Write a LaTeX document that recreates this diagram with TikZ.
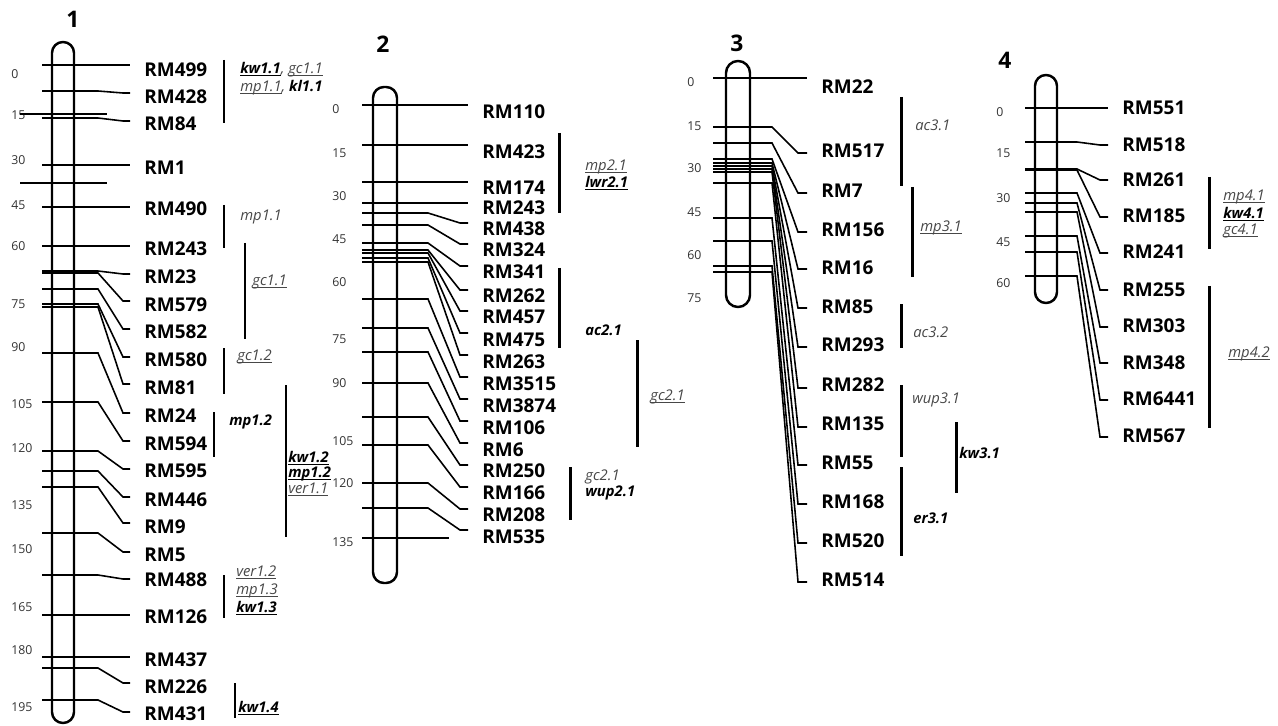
\documentclass[tikz,border=0pt]{standalone}
\usepackage{fontspec}
\setmainfont{Open Sans}
\usetikzlibrary{positioning}

\newcommand{\qul}[1]{\setbox0\hbox{#1}\rlap{\rule[-1.3pt]{\wd0}{0.5pt}}\box0}

\begin{document}
\begin{tikzpicture}[x=0.02cm, y=-0.02cm,
  chrom/.style={line width=1.4pt, rounded corners=6.2pt},
  lnk/.style={line width=0.9pt},
  bar/.style={line width=1.7pt},
  mk/.style={anchor=west, inner xsep=8pt, inner ysep=0pt,
    font=\fontsize{10.8}{12}\selectfont\bfseries},
  scl/.style={anchor=west, inner sep=0pt, font=\fontsize{7}{8}\selectfont,
    text=black!80},
  qtl/.style={anchor=west, inner sep=0pt,
    font=\fontsize{8.4}{10}\selectfont\itshape, text=black!72},
  qtlb/.style={qtl, font=\fontsize{8.4}{10}\selectfont\bfseries\itshape,
    text=black},
  num/.style={font=\fontsize{13}{15}\selectfont\bfseries}
]
\useasboundingbox (0,0) rectangle (1278,726);

\node[num] (n1) at (73,19) {1};
\node[num] (n2) at (383,44) {2};
\node[num] (n3) at (737,43) {3};
\node[num] (n4) at (1005,60) {4};

\draw[chrom] (52,42) rectangle (74,723);
\draw[chrom] (373,87) rectangle (397,583);
\draw[chrom, rounded corners=6.8pt] (726,61) rectangle (750,307);
\draw[chrom] (1035,75) rectangle (1057,303);

\foreach \v/\y in {0/74, 15/115, 30/160, 45/205, 60/246, 75/304, 90/347,
  105/404, 120/448, 135/505, 150/549, 165/607, 180/650, 195/707}
  \node[scl] (s1-\v) at (11,\y) {\v};
\foreach \v/\y in {0/109, 15/153, 30/196, 45/239, 60/282, 75/339, 90/383,
  105/441, 120/483, 135/542}
  \node[scl] (s2-\v) at (332,\y) {\v};
\foreach \v/\y in {0/82, 15/126, 30/168, 45/212, 60/255, 75/298}
  \node[scl] (s3-\v) at (687,\y) {\v};
\foreach \v/\y in {0/112, 15/153, 30/198, 45/242, 60/283}
  \node[scl] (s4-\v) at (996,\y) {\v};

\foreach \ly/\ey/\ny/\lab [count=\i] in {65/65/70/RM499, 91/93/97/RM428,
  118/121/124/RM84, 165/165/168/RM1, 207/207/209/RM490, 246/246/249/RM243,
  271/274/277/RM23, 273/301/305/RM579, 289/329/332/RM582, 304/357/360/RM580,
  307/384/388/RM81, 353/413/416/RM24, 402/441/444/RM594, 451/469/471/RM595,
  471/497/500/RM446, 487/523/527/RM9, 533/552/555/RM5, 575/579/580/RM488,
  615/615/617/RM126, 657/657/660/RM437, 668/683/687/RM226, 700/712/714/RM431}{
  \node[mk] (a\i) at (130,\ny) {\lab};
  \draw[lnk] (42,\ly) -- (98,\ly) -- (123,\ey) -- (a\i.west |- 0,\ey);
}
\draw[lnk] (20,114) -- (107,114);
\draw[lnk] (20,183) -- (107,183);

\foreach \ly/\ey/\ny/\lab [count=\i] in {105/105/112/RM110, 145/145/152/RM423,
  182/182/188/RM174, 203/203/208/RM243, 213/223/229/RM438, 225/244/250/RM324,
  243/266/272/RM341, 250/290/296/RM262, 253/311/317/RM457, 258/333/340/RM475,
  262/355/362/RM263, 299/377/384/RM3515, 328/399/406/RM3874, 352/421/428/RM106,
  383/443/450/RM6, 417/465/471/RM250, 445/487/493/RM166, 483/509/515/RM208,
  508/530/537/RM535}{
  \node[mk] (b\i) at (468,\ny) {\lab};
  \draw[lnk] (362,\ly) -- (428,\ly) -- (460,\ey) -- (b\i.west |- 0,\ey);
}
\draw[lnk] (362,538) -- (449,538);

\foreach \ly/\ey/\ny/\lab [count=\i] in {78/78/87/RM22, 127/153/151/RM517,
  143/193/191/RM7, 159/232/230/RM156, 163/269/268/RM16, 166/308/307/RM85,
  169/347/345/RM293, 172/388/385/RM282, 183/427/424/RM135, 218/465/463/RM55,
  241/504/502/RM168, 266/543/541/RM520, 272/582/580/RM514}{
  \node[mk] (c\i) at (807,\ny) {\lab};
  \draw[lnk] (713,\ly) -- (772,\ly) -- (798,\ey) -- (c\i.west |- 0,\ey);
}

\foreach \ly/\ey/\ny/\lab [count=\i] in {108/108/108/RM551, 142/145/145/RM518,
  169/180/180/RM261, 170/217/216/RM185, 193/253/252/RM241, 203/290/290/RM255,
  212/327/326/RM303, 236/363/363/RM348, 252/400/399/RM6441,
  276/437/436/RM567}{
  \node[mk] (d\i) at (1108,\ny) {\lab};
  \draw[lnk] (1025,\ly) -- (1077,\ly) -- (1100,\ey) -- (d\i.west |- 0,\ey);
}

\draw[bar] (224,60) -- (224,123);
\node[qtl] (q1a) at (240,70) {{\color{black}\bfseries\qul{kw1.1}}, \qul{gc1.1}};
\node[qtl] (q1b) at (240,88) {\qul{mp1.1}, {\color{black}\bfseries kl1.1}};
\draw[bar] (224,205) -- (224,248);
\node[qtl] (q1c) at (240,217) {mp1.1};
\draw[bar] (245,243) -- (245,339);
\node[qtl] (q1d) at (252,282) {\qul{gc1.1}};
\draw[bar] (224,348) -- (224,394);
\node[qtl] (q1e) at (237,357) {\qul{gc1.2}};
\draw[bar] (214,412) -- (214,457);
\node[qtlb] (q1f) at (229,422) {mp1.2};
\draw[bar] (286,385) -- (286,537);
\node[qtlb] (q1g) at (288,458) {\qul{kw1.2}};
\node[qtlb] (q1h) at (288,474) {\qul{mp1.2}};
\node[qtl] (q1i) at (288,489) {\qul{ver1.1}};
\draw[bar] (224,575) -- (224,618);
\node[qtl] (q1j) at (236,572) {\qul{ver1.2}};
\node[qtl] (q1k) at (236,591) {\qul{mp1.3}};
\node[qtlb] (q1l) at (236,608) {\qul{kw1.3}};
\draw[bar] (235,683) -- (235,718);
\node[qtlb] (q1m) at (238,708) {\qul{kw1.4}};

\draw[bar] (559,133) -- (559,213);
\node[qtl] (q2a) at (585,167) {\qul{mp2.1}};
\node[qtlb] (q2b) at (585,183) {\qul{lwr2.1}};
\draw[bar] (559,268) -- (559,348);
\node[qtlb] (q2c) at (585,330) {ac2.1};
\draw[bar] (637,340) -- (637,447);
\node[qtl] (q2d) at (650,397) {\qul{gc2.1}};
\draw[bar] (570,467) -- (570,520);
\node[qtl] (q2e) at (585,477) {gc2.1};
\node[qtlb] (q2f) at (585,493) {wup2.1};

\draw[bar] (901,97) -- (901,186);
\node[qtl] (q3a) at (915,125) {ac3.1};
\draw[bar] (912,187) -- (912,277);
\node[qtl] (q3b) at (920,228) {\qul{mp3.1}};
\draw[bar] (901,304) -- (901,348);
\node[qtl] (q3c) at (913,332) {ac3.2};
\draw[bar] (901,385) -- (901,457);
\node[qtl] (q3d) at (912,400) {wup3.1};
\draw[bar] (956,422) -- (956,493);
\node[qtlb] (q3e) at (959,453) {kw3.1};
\draw[bar] (901,467) -- (901,556);
\node[qtlb] (q3f) at (913,518) {er3.1};

\draw[bar] (1209,177) -- (1209,249);
\node[qtl] (q4a) at (1223,197) {\qul{mp4.1}};
\node[qtlb] (q4b) at (1223,214) {\qul{kw4.1}};
\node[qtl] (q4c) at (1223,231) {\qul{gc4.1}};
\draw[bar] (1209,286) -- (1209,428);
\node[qtl] (q4d) at (1228,354) {\qul{mp4.2}};
\end{tikzpicture}
\end{document}
